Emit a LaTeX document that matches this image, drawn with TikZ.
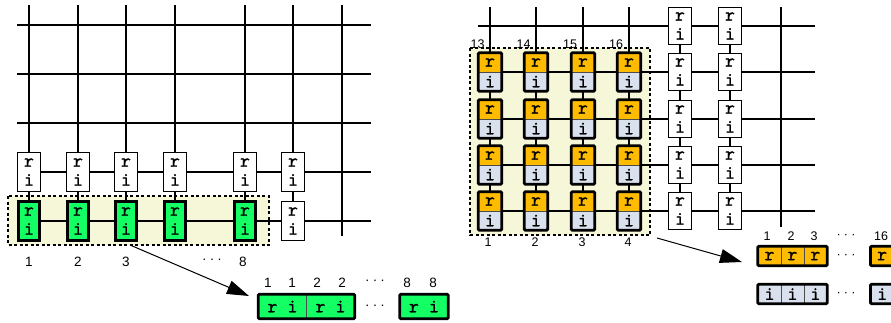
\documentclass[tikz,border=0pt]{standalone}
\usepackage{fontspec}
\newfontfamily\numfont{Liberation Sans}
\newfontfamily\rimono{lmmono10-regular.otf}[FakeBold=1.0]
\usetikzlibrary{arrows.meta}
\definecolor{cellgreen}{RGB}{20,255,100}
\definecolor{cellorange}{RGB}{255,187,0}
\definecolor{cellblue}{RGB}{218,225,238}
\definecolor{regionyellow}{RGB}{246,246,216}
\newcommand\riFont{\rimono\fontsize{19}{19}\selectfont}
\newcommand\spacedots{·\hspace{3.2pt}·\hspace{3.2pt}·}
\begin{document}
\begin{tikzpicture}[x=1pt,y=-1pt,
  grid/.style={line width=1.4pt},
  regionfill/.style={fill=regionyellow, inner sep=0pt, outer sep=0pt},
  regionborder/.style={dash pattern=on 3pt off 2.5pt, line width=1.4pt},
  wbox/.style={draw, fill=white, line width=1.3pt, minimum width=22.5pt, minimum height=38.5pt, inner sep=0pt, align=center, font=\riFont},
  gbox/.style={wbox, fill=cellgreen, line width=3pt, minimum width=21pt, minimum height=39pt},
  rcell/.style={draw=black!70, line width=0.6pt, fill=cellorange, minimum width=23pt, minimum height=19pt, inner sep=0pt, font=\riFont},
  icell/.style={rcell, fill=cellblue},
  gcell/.style={rcell, fill=cellgreen, minimum width=48pt, minimum height=24pt},
  outline/.style={line width=2.8pt, rounded corners=1.2pt},
  lbl/.style={font=\numfont\fontsize{13.5}{14}\selectfont, inner sep=0pt},
  slbl/.style={font=\numfont\fontsize{12.5}{13}\selectfont, inner sep=0pt},
  arrow/.style={line width=1pt, -{Triangle[length=22pt,width=14pt]}}
]
\useasboundingbox (0,0) rectangle (891,322);

% ---------------- left part ----------------
\node[regionfill, minimum width=261pt, minimum height=49pt] (regL) at (138.5,220.5) {};
\foreach \x in {29,78,126,175,245,293} \draw[grid] (\x,5) -- (\x,221);
\draw[grid] (342,5) -- (342,236);
\foreach \y in {25,74,123} \draw[grid] (17,\y) -- (371,\y);
\foreach \y in {172,221} \draw[grid] (29,\y) -- (371,\y);
\draw[regionborder] (regL.north west) rectangle (regL.south east);

\foreach \x [count=\i] in {29,78,126,175,245,293} \node[wbox] (t\i) at (\x,172) {r\\i};
\foreach \x [count=\i] in {29,78,126,175,245} \node[gbox] (g\i) at (\x,221) {r\\i};
\node[wbox] (b6) at (293,221) {r\\i};

\node[lbl] (nl1) at (29,262) {1};
\node[lbl] (nl2) at (78,262) {2};
\node[lbl] (nl3) at (126,262) {3};
\node[lbl] (nld) at (212,261) {\spacedots};
\node[lbl] (nl8) at (243,262) {8};

\coordinate (aL1) at (130,245);
\coordinate (aL2) at (249,296);
\draw[arrow] (aL1) -- (aL2);

\node[gcell] (ga1) at (282.5,306.5) {r i};
\node[gcell] (ga2) at (330.5,306.5) {r i};
\draw[outline] (ga1.north west) rectangle (ga2.south east);
\node[lbl] (gad) at (375,307.5) {\spacedots};
\node[gcell] (ga3) at (424,306.5) {r i};
\draw[outline] (ga3.north west) rectangle (ga3.south east);

\node[lbl] (ng1) at (268,283) {1};
\node[lbl] (ng2) at (292,283) {1};
\node[lbl] (ng3) at (317,283) {2};
\node[lbl] (ng4) at (342,283) {2};
\node[lbl] (ngd) at (375,282) {\spacedots};
\node[lbl] (ng5) at (407,283) {8};
\node[lbl] (ng6) at (433,283) {8};

% ---------------- right part ----------------
\node[regionfill, minimum width=180pt, minimum height=187pt] (regR) at (560,141.5) {};
\foreach \x in {490,536,583,629} \draw[grid] (\x,7) -- (\x,211);
\foreach \x in {680,730} \draw[grid] (\x,26) -- (\x,211);
\draw[grid] (781,7) -- (781,227);
\foreach \y in {26,72,119,165,211} \draw[grid] (478,\y) -- (815,\y);
\draw[regionborder] (regR.north west) rectangle (regR.south east);

\foreach \x [count=\i] in {490,536,583,629}
  \foreach \y [count=\j] in {72,119,165,211} {
    \node[rcell] (r\i\j) at (\x,\y-9.5) {r};
    \node[icell] (i\i\j) at (\x,\y+9.5) {i};
    \draw[outline] (r\i\j.north west) rectangle (i\i\j.south east);
  }
\foreach \x [count=\i] in {680,730}
  \foreach \y [count=\j] in {26,72,119,165,211}
    \node[wbox, minimum height=37.5pt] (w\i\j) at (\x,\y) {r\\i};

\node[slbl] (nt13) at (477.5,44.5) {13};
\node[slbl] (nt14) at (523.5,44.5) {14};
\node[slbl] (nt15) at (570,44.5) {15};
\node[slbl] (nt16) at (616,44.5) {16};
\node[slbl] (nb1) at (488,242.5) {1};
\node[slbl] (nb2) at (535,242.5) {2};
\node[slbl] (nb3) at (582,242.5) {3};
\node[slbl] (nb4) at (628,242.5) {4};

\coordinate (aR1) at (657,238);
\coordinate (aR2) at (742,262);
\draw[arrow] (aR1) -- (aR2);

\foreach \x [count=\i] in {769.6,792.5,815.4} {
  \node[rcell] (ar\i) at (\x,256) {r};
  \node[icell] (ai\i) at (\x,294) {i};
}
\draw[outline] (ar1.north west) rectangle (ar3.south east);
\draw[outline] (ai1.north west) rectangle (ai3.south east);
\node[rcell] (ar16) at (882.2,256) {r};
\node[icell] (ai16) at (882.2,294) {i};
\draw[outline] (ar16.north west) rectangle (ar16.south east);
\draw[outline] (ai16.north west) rectangle (ai16.south east);
\node[slbl] (rdots) at (846,256) {\spacedots};
\node[slbl] (idots) at (846,294) {\spacedots};

\node[slbl] (nr1) at (767,236.5) {1};
\node[slbl] (nr2) at (791,236.5) {2};
\node[slbl] (nr3) at (814,236.5) {3};
\node[slbl] (nrd) at (846,236) {\spacedots};
\node[slbl] (nr16) at (881,236.5) {16};
\end{tikzpicture}
\end{document}
